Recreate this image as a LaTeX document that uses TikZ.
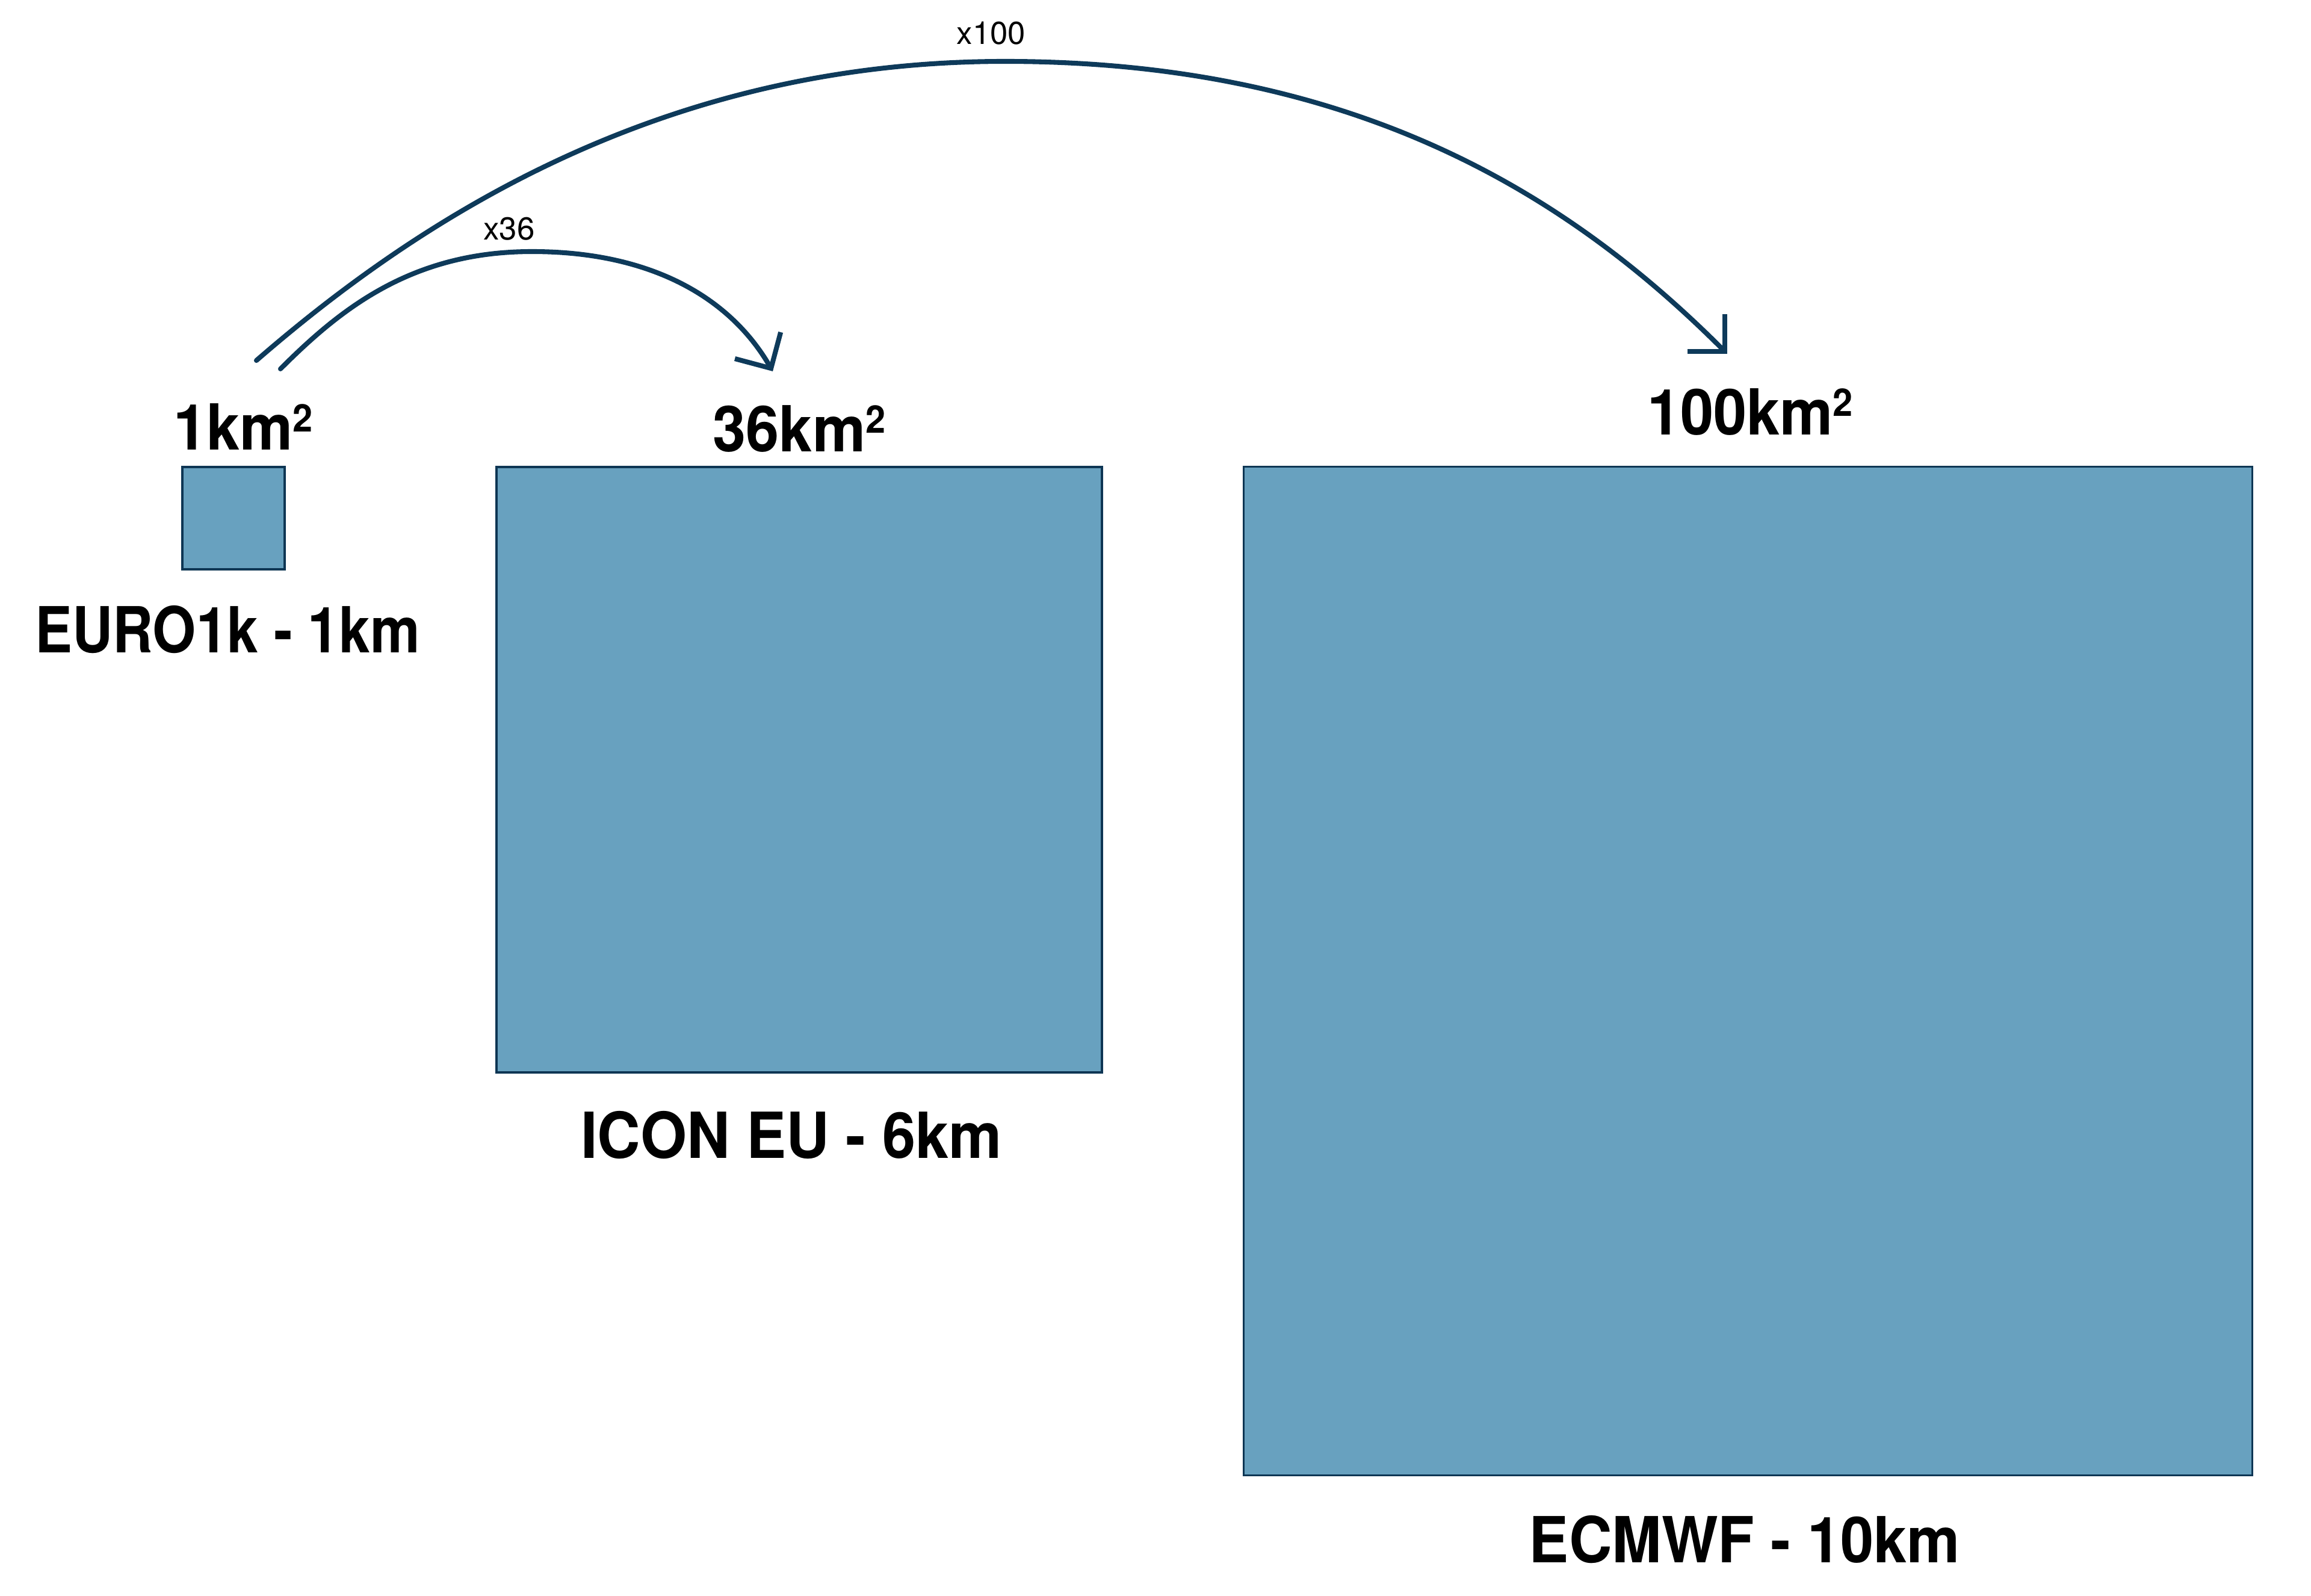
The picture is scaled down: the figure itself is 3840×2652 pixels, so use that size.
\documentclass[tikz,border=0pt]{standalone}
\usepackage{fontspec}
\setmainfont{TeX Gyre Heros}
\newfontfamily\labfont{TeX Gyre Heros}[FakeStretch=0.94]
\newfontfamily\labfontnarrow{TeX Gyre Heros}[FakeStretch=0.88]
\usetikzlibrary{arrows.meta}
\definecolor{boxfill}{RGB}{104,161,191}
\definecolor{boxline}{RGB}{14,54,84}
\definecolor{arcline}{RGB}{14,58,90}
\newcommand\sqtwo{\raisebox{8.8pt}{\fontsize{18}{20}\selectfont 2}}
\begin{document}
\begin{tikzpicture}[x=0.01cm,y=-0.01cm,
  cell/.style={draw=boxline,fill=boxfill,line width=1.1pt,inner sep=0,outer sep=0},
  biglabel/.style={inner sep=0,anchor=base,font=\labfont\bfseries\fontsize{30}{36}\selectfont},
  smalllabel/.style={inner sep=0,anchor=base,font=\fontsize{15}{18}\selectfont},
  conn/.style={draw=arcline,line width=2.3pt,line cap=round,-{Straight Barb[length=12.5pt,width=25pt]}}]
\path[use as bounding box] (0,0) rectangle (3840,2652);

% boxes
\node[cell,minimum width=1.70cm,minimum height=1.70cm] (b1) at (388,861) {};
\node[cell,minimum width=10.06cm,minimum height=10.06cm] (b2) at (1328,1279) {};
\node[cell,minimum width=16.75cm,minimum height=16.75cm] (b3) at (2904.5,1613.5) {};

% area labels
\node[biglabel] (a1) at (404,748) {1km\sqtwo};
\node[biglabel] (a2) at (1328,750) {36km\sqtwo};
\node[biglabel] (a3) at (2908,722) {100km\sqtwo};

% model labels
\node[biglabel,font=\labfontnarrow\bfseries\fontsize{30}{36}\selectfont] (m1) at (378,1084) {EURO1k - 1km};
\node[biglabel] (m2) at (1315,1924) {ICON EU - 6km};
\node[biglabel] (m3) at (2899,2596) {ECMWF - 10km};

% factor labels
\node[smalllabel] (f36) at (846,399) {x36};
\node[smalllabel] (f100) at (1647,74) {x100};

% connectors
\coordinate (s36) at (466,613);
\coordinate (e36) at (1284,617);
\coordinate (s100) at (426,599);
\coordinate (e100) at (2870,588);
\draw[conn] (s36) .. controls (566,513) and (684,418) .. (884,418)
  .. controls (1084,418) and (1214,496) .. (e36);
\draw[conn] (s100) .. controls (698,363) and (1100,102) .. (1670,102)
  .. controls (2270,102) and (2620,338) .. (e100);
\end{tikzpicture}
\end{document}
